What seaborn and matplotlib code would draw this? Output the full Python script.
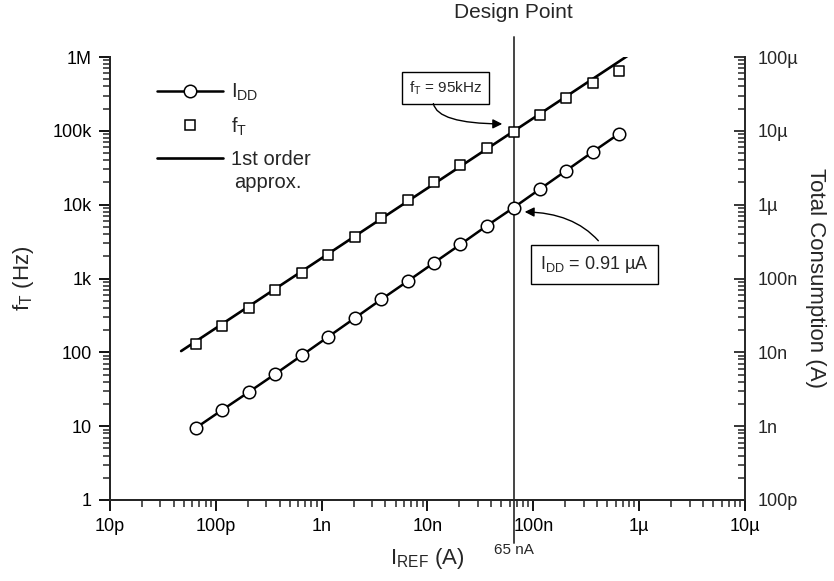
import matplotlib
matplotlib.use("Agg")
import matplotlib.pyplot as plt
import seaborn as sns
import pandas as pd
from matplotlib.ticker import LogLocator, FixedLocator, FixedFormatter, NullFormatter
from matplotlib.lines import Line2D

# ---------------- data ----------------
iref = [65e-12, 115e-12, 205e-12, 365e-12, 650e-12, 1.15e-9, 2.05e-9, 3.65e-9,
        6.5e-9, 11.5e-9, 20.5e-9, 36.5e-9, 65e-9, 115e-9, 205e-9, 365e-9, 650e-9]
ft_hz = [130, 230, 400, 700, 1.2e3, 2.1e3, 3.7e3, 6.5e3, 11.5e3, 20e3, 34e3,
         58e3, 95e3, 165e3, 275e3, 440e3, 640e3]
idd_a = [0.95e-9, 1.66e-9, 2.9e-9, 5.1e-9, 9.1e-9, 16.2e-9, 29e-9, 52e-9,
         92e-9, 163e-9, 290e-9, 520e-9, 0.91e-6, 1.62e-6, 2.9e-6, 5.2e-6, 9.2e-6]
approx_iref = [47e-12, 780e-9]
approx_ft = [104, 1.04e6]
design_iref = 65e-9

x_ticks = [1e-11, 1e-10, 1e-9, 1e-8, 1e-7, 1e-6, 1e-5]
x_labels = ["10p", "100p", "1n", "10n", "100n", "1µ", "10µ"]
yl_ticks = [1, 10, 100, 1e3, 1e4, 1e5, 1e6]
yl_labels = ["1", "10", "100", "1k", "10k", "100k", "1M"]
yr_ticks = [1e-10, 1e-9, 1e-8, 1e-7, 1e-6, 1e-5, 1e-4]
yr_labels = ["100p", "1n", "10n", "100n", "1µ", "10µ", "100µ"]

# ---------------- style ----------------
sns.set_theme(style="ticks")
plt.rcParams["font.family"] = ["Liberation Sans", "DejaVu Sans"]
plt.rcParams["mathtext.fontset"] = "custom"
plt.rcParams["mathtext.rm"] = "Liberation Sans"
plt.rcParams["mathtext.it"] = "Liberation Sans:italic"
plt.rcParams["mathtext.bf"] = "Liberation Sans:bold"

W, H = 834, 581
fig = plt.figure(figsize=(W / 100, H / 100), dpi=100)
L, R, T, B = 110, 745, 57, 500
ax = fig.add_axes([L / W, 1 - B / H, (R - L) / W, (B - T) / H])
ax.set_xscale("log")
ax.set_yscale("log")
ax.set_xlim(1e-11, 1e-5)
ax.set_ylim(1, 1e6)
ax2 = ax.twinx()
ax2.set_yscale("log")
ax2.set_ylim(1e-10, 1e-4)

df_ft = pd.DataFrame({"iref": iref, "ft": ft_hz})
df_idd = pd.DataFrame({"iref": iref, "idd": idd_a})
df_ap = pd.DataFrame({"iref": approx_iref, "ft": approx_ft})

sns.lineplot(data=df_ap, x="iref", y="ft", ax=ax, color="black", lw=1.9, zorder=2)
sns.scatterplot(data=df_ft, x="iref", y="ft", ax=ax, marker="s", s=55,
                color="white", edgecolor="black", linewidth=1.1, zorder=3)
sns.lineplot(data=df_idd, x="iref", y="idd", ax=ax2, color="black", lw=1.8,
             marker="o", markersize=9, markerfacecolor="white",
             markeredgecolor="black", markeredgewidth=1.1, zorder=3)

# design point line
ax.plot([design_iref, design_iref], [-0.097, 1.045], transform=ax.get_xaxis_transform(),
        color="#444444", lw=1.4, clip_on=False, zorder=1)
ax.text(design_iref, 1.10, "Design Point", transform=ax.get_xaxis_transform(),
        ha="center", va="center", fontsize=15)
ax.text(design_iref, -0.097, "65 nA", transform=ax.get_xaxis_transform(),
        ha="center", va="top", fontsize=11)

# ticks & labels
for a in (ax, ax2):
    a.spines["top"].set_visible(False)
    for s in a.spines.values():
        s.set_linewidth(1.4)
ax.spines["right"].set_visible(False)

ax.xaxis.set_major_locator(FixedLocator(x_ticks))
ax.xaxis.set_major_formatter(FixedFormatter(x_labels))
ax.xaxis.set_minor_locator(LogLocator(base=10, subs=range(2, 10), numticks=20))
ax.xaxis.set_minor_formatter(NullFormatter())
ax.yaxis.set_major_locator(FixedLocator(yl_ticks))
ax.yaxis.set_major_formatter(FixedFormatter(yl_labels))
ax.yaxis.set_minor_locator(LogLocator(base=10, subs=range(2, 10), numticks=20))
ax.yaxis.set_minor_formatter(NullFormatter())
ax2.yaxis.set_major_locator(FixedLocator(yr_ticks))
ax2.yaxis.set_major_formatter(FixedFormatter(yr_labels))
ax2.yaxis.set_minor_locator(LogLocator(base=10, subs=range(2, 10), numticks=20))
ax2.yaxis.set_minor_formatter(NullFormatter())

ax.tick_params(axis="both", which="major", direction="out", length=8, width=1.3,
               labelsize=13, colors="black")
ax.tick_params(axis="x", which="major", pad=5)
ax.tick_params(axis="y", which="major", pad=5)
ax.tick_params(axis="both", which="minor", direction="out", length=5, width=1.1)
ax2.tick_params(axis="y", which="major", direction="in", length=8, width=1.3,
                labelsize=13, pad=9)
ax2.tick_params(axis="y", which="minor", direction="in", length=5, width=1.1)

ax.set_xlabel(r"$\mathregular{I_{REF}}$ (A)", fontsize=16, labelpad=8)
ax.set_ylabel(r"$\mathregular{f_T}$ (Hz)", fontsize=16, labelpad=12)
ax2.set_ylabel("Total Consumption (A)", fontsize=16, rotation=-90, labelpad=20)

# annotations
ax.text(14.7e-9, 3.81e5, r"$\mathregular{f_T}$ = 95kHz", fontsize=11, ha="center", va="center",
        bbox=dict(boxstyle="square,pad=0.45", fc="white", ec="black", lw=1))
ax.annotate("", xy=(54e-9, 1.24e5), xytext=(11.3e-9, 2.55e5),
            arrowprops=dict(arrowstyle="-|>", color="black", lw=1, mutation_scale=14,
                            connectionstyle="angle3,angleA=90,angleB=0"))
ax.text(376e-9, 1.53e3, r"$\mathregular{I_{DD}}$ = 0.91 µA", fontsize=13, ha="center", va="center",
        bbox=dict(boxstyle="square,pad=0.5", fc="white", ec="black", lw=1))
ax.annotate("", xy=(78e-9, 7.99e3), xytext=(428e-9, 3.04e3),
            arrowprops=dict(arrowstyle="-|>", color="black", lw=1, mutation_scale=14,
                            connectionstyle="angle3,angleA=130,angleB=0"))

# legend
handles = [
    Line2D([], [], color="black", lw=1.8, marker="o", markersize=9,
           markerfacecolor="white", markeredgecolor="black", markeredgewidth=1.1),
    Line2D([], [], ls="none", marker="s", markersize=7.5,
           markerfacecolor="white", markeredgecolor="black", markeredgewidth=1.1),
    Line2D([], [], color="black", lw=1.9),
]
labels = [r"$\mathregular{I_{DD}}$", r"$\mathregular{f_T}$", "1st order"]
leg = ax2.legend(handles, labels, loc="upper left",
                 bbox_to_anchor=((157 - L) / (R - L), (B - 82) / (B - T)),
                 frameon=False, fontsize=14.5, handlelength=3.3, handletextpad=0.35,
                 labelspacing=0.6, borderpad=0, borderaxespad=0)
ax.text(0.249, (B - 183) / (B - T), "approx.", transform=ax.transAxes,
        ha="center", va="center", fontsize=14.5)

fig.savefig("out.png", dpi=100)
